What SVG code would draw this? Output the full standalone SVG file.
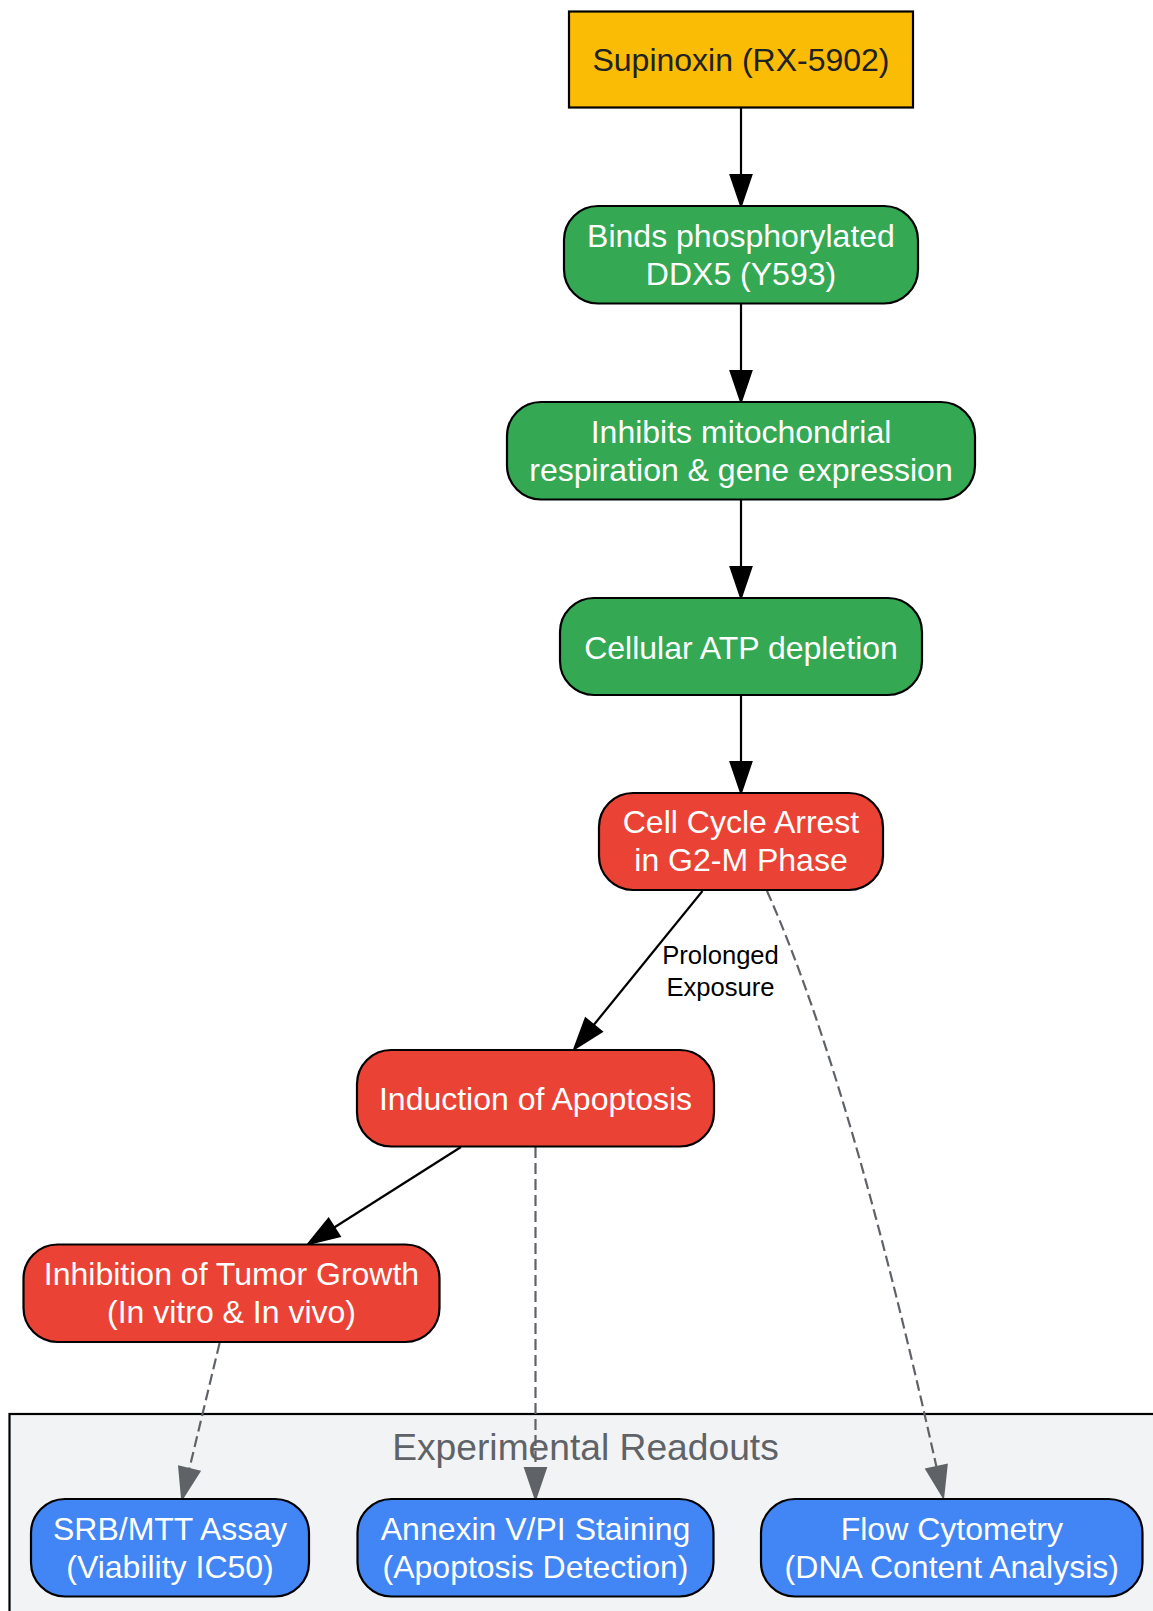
<svg xmlns="http://www.w3.org/2000/svg" width="1153" height="1611" viewBox="0 0 1153 1611">
<style>
.nt{font-family:"Liberation Sans",Arial,sans-serif;font-size:32px;text-anchor:middle;fill:#ffffff}
.dark{fill:#202124}
.lbl{font-family:"Liberation Sans",Arial,sans-serif;font-size:25.6px;text-anchor:middle;fill:#000000}
.ct{font-family:"Liberation Sans",Arial,sans-serif;font-size:37.2px;text-anchor:middle;fill:#5F6368}
.box{stroke:#000000;stroke-width:2.2}
.green{fill:#34A853}
.red{fill:#EA4335}
.blue{fill:#4285F4}
.solid{fill:none;stroke:#000000;stroke-width:2.2}
.dash{fill:none;stroke:#5F6368;stroke-width:2.2;stroke-dasharray:11,5}
</style>
<defs>
<marker id="ah" markerUnits="userSpaceOnUse" viewBox="0 -12 32 24" refX="0" refY="0" markerWidth="32" markerHeight="24" orient="auto" overflow="visible">
<path d="M0,-10.5 L31,0 L0,10.5 Z" fill="#000000" stroke="#000000" stroke-width="2"/>
</marker>
<marker id="ahg" markerUnits="userSpaceOnUse" viewBox="0 -12 32 24" refX="0" refY="0" markerWidth="32" markerHeight="24" orient="auto" overflow="visible">
<path d="M0,-10.5 L31,0 L0,10.5 Z" fill="#5F6368" stroke="#5F6368" stroke-width="2"/>
</marker>
</defs>
<rect x="0" y="0" width="1153" height="1611" fill="#ffffff"/>

<g id="cluster_readouts">
<rect x="9.5" y="1414" width="1200" height="300" fill="#F1F3F4" stroke="#000000" stroke-width="2.2"/>
<text class="ct" x="585.5" y="1460">Experimental Readouts</text>
</g>

<g id="edges">
<path class="solid" d="M741,107.5 L741,175" marker-end="url(#ah)"/>
<path class="solid" d="M741,303.5 L741,371" marker-end="url(#ah)"/>
<path class="solid" d="M741,499.5 L741,567" marker-end="url(#ah)"/>
<path class="solid" d="M741,695 L741,762" marker-end="url(#ah)"/>
<path class="solid" d="M702.5,891 L593.7,1025" marker-end="url(#ah)"/>
<text class="lbl" x="720.5" y="964">Prolonged</text>
<text class="lbl" x="720.5" y="996">Exposure</text>
<path class="solid" d="M461,1147 L334.2,1227.5" marker-end="url(#ah)"/>
<path class="dash" d="M219.6,1343 L189.3,1468.9" marker-end="url(#ahg)"/>
<path class="dash" d="M535.5,1147 L535.5,1468" marker-end="url(#ahg)"/>
<path class="dash" d="M767,891 C834,1041 894,1276 936.5,1467" marker-end="url(#ahg)"/>
</g>

<g id="supinoxin">
<rect class="box" x="569" y="11.5" width="344" height="96" fill="#FBBC05"/>
<text class="nt dark" x="741" y="70.7">Supinoxin (RX-5902)</text>
</g>

<g id="binds">
<rect class="box green" x="564" y="206" width="354" height="97.5" rx="34" ry="34"/>
<text class="nt" x="741" y="246.7">Binds phosphorylated</text>
<text class="nt" x="741" y="284.8">DDX5 (Y593)</text>
</g>

<g id="inhibits">
<rect class="box green" x="507" y="402" width="468" height="97.5" rx="34" ry="34"/>
<text class="nt" x="741" y="442.6">Inhibits mitochondrial</text>
<text class="nt" x="741" y="480.6">respiration &amp; gene expression</text>
</g>

<g id="atp">
<rect class="box green" x="560" y="598" width="362" height="97" rx="34" ry="34"/>
<text class="nt" x="741" y="658.5">Cellular ATP depletion</text>
</g>

<g id="cellcycle">
<rect class="box red" x="599" y="793" width="284" height="97" rx="34" ry="34"/>
<text class="nt" x="741" y="833.3">Cell Cycle Arrest</text>
<text class="nt" x="741" y="871.3">in G2-M Phase</text>
</g>

<g id="apoptosis">
<rect class="box red" x="357" y="1050" width="357" height="96.5" rx="34" ry="34"/>
<text class="nt" x="535.5" y="1109.5">Induction of Apoptosis</text>
</g>

<g id="tumor">
<rect class="box red" x="23.5" y="1244.5" width="416" height="97.5" rx="34" ry="34"/>
<text class="nt" x="231.5" y="1285.3">Inhibition of Tumor Growth</text>
<text class="nt" x="231.5" y="1323.3">(In vitro &amp; In vivo)</text>
</g>

<g id="srb">
<rect class="box blue" x="31" y="1499" width="278" height="97.5" rx="34" ry="34"/>
<text class="nt" x="170" y="1540">SRB/MTT Assay</text>
<text class="nt" x="170" y="1578">(Viability IC50)</text>
</g>

<g id="annexin">
<rect class="box blue" x="357.5" y="1499" width="356" height="97.5" rx="34" ry="34"/>
<text class="nt" x="535.5" y="1540">Annexin V/PI Staining</text>
<text class="nt" x="535.5" y="1578">(Apoptosis Detection)</text>
</g>

<g id="flow">
<rect class="box blue" x="761" y="1499" width="381.5" height="97.5" rx="34" ry="34"/>
<text class="nt" x="951.8" y="1540">Flow Cytometry</text>
<text class="nt" x="951.8" y="1578">(DNA Content Analysis)</text>
</g>
</svg>
